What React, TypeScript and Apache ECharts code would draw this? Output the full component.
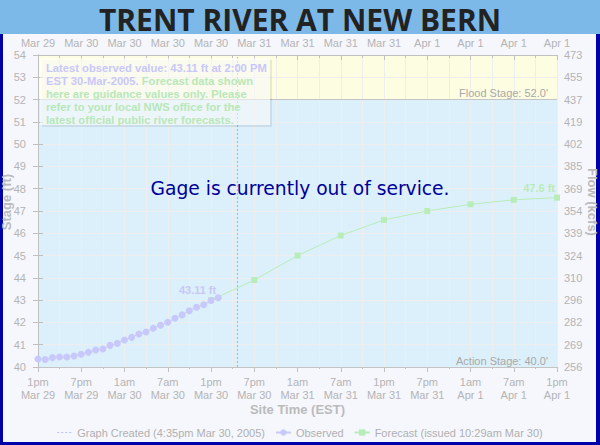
import React, { useEffect, useRef } from 'react';
import * as echarts from 'echarts';

// Hours after 1pm EST Mar 29, 2005
const obsHours = [0, 1, 2, 3, 4, 5, 6, 7, 8, 9, 10, 11, 12, 13, 14, 15, 16, 17, 18, 19, 20, 21, 22, 23, 24, 25];
const obsStage = [40.36, 40.34, 40.42, 40.45, 40.45, 40.49, 40.57, 40.66, 40.76, 40.81, 40.97, 41.06, 41.21, 41.33, 41.48, 41.57, 41.74, 41.87, 42.01, 42.19, 42.34, 42.52, 42.68, 42.79, 42.98, 43.11];
const fcstHours = [24, 30, 36, 42, 48, 54, 60, 66, 72];
const fcstStage = [43.0, 43.9, 45.0, 45.9, 46.6, 47.0, 47.3, 47.5, 47.6];

const bottomTimeLabels = ['1pm', '7pm', '1am', '7am', '1pm', '7pm', '1am', '7am', '1pm', '7pm', '1am', '7am', '1pm'];
const bottomDateLabels = ['Mar 29', 'Mar 29', 'Mar 30', 'Mar 30', 'Mar 30', 'Mar 30', 'Mar 31', 'Mar 31', 'Mar 31', 'Mar 31', 'Apr 1', 'Apr 1', 'Apr 1'];
const topDateLabels = ['Mar 29', 'Mar 30', 'Mar 30', 'Mar 30', 'Mar 30', 'Mar 31', 'Mar 31', 'Mar 31', 'Mar 31', 'Apr 1', 'Apr 1', 'Apr 1', 'Apr 1'];
const flowLabels = [256, 269, 282, 296, 310, 324, 339, 354, 369, 385, 402, 419, 437, 455, 473];

const floodStage = 52;
const actionStage = 40;
const graphCreatedHour = 27 + 35 / 60;

const seriesNames = {
  created: 'Graph Created (4:35pm Mar 30, 2005)',
  observed: 'Observed',
  forecast: 'Forecast (issued 10:29am Mar 30)',
};

export default function App() {
  const ref = useRef<HTMLDivElement>(null);

  useEffect(() => {
    if (!ref.current) return;
    const chart = echarts.init(ref.current, undefined, { renderer: 'svg' });

    const labelColor = '#b4b4b4';
    const axisColor = '#c0c0c0';
    const gridColor = '#eeeeee';
    const font = '"Liberation Sans", Arial, sans-serif';

    const obsData = obsHours.map((h, i) => {
      if (i === obsHours.length - 1) {
        return {
          value: [h, obsStage[i]],
          label: {
            show: true,
            position: 'top',
            align: 'right',
            distance: 0,
            offset: [-2, 1],
            formatter: obsStage[i].toFixed(2) + ' ft',
            color: '#c8c8f8',
            fontWeight: 'bold',
            fontSize: 11,
            fontFamily: font,
          },
        };
      }
      return [h, obsStage[i]];
    });
    const fcstData = fcstHours.map((h, i) => {
      if (i === fcstHours.length - 1) {
        return {
          value: [h, fcstStage[i]],
          label: {
            show: true,
            position: 'top',
            align: 'right',
            distance: 0,
            offset: [-2, -1],
            formatter: fcstStage[i].toFixed(1) + ' ft',
            color: '#b8ecb8',
            fontWeight: 'bold',
            fontSize: 11,
            fontFamily: font,
          },
        };
      }
      return [h, fcstStage[i]];
    });

    const dottedIcon =
      'path://M0,0L0.01,0M15,8L15.01,8M0,3.5h2v1h-2zM4,3.5h2v1h-2zM8,3.5h2v1h-2zM12,3.5h2v1h-2z';

    const option: any = {
      animation: false,
      backgroundColor: '#f5f7fd',
      textStyle: { fontFamily: font },
      grid: { left: 38, right: 43, top: 55, bottom: 78, outerBoundsMode: 'none' },
      legend: {
        bottom: 2,
        left: 'center',
        itemWidth: 15,
        itemHeight: 8,
        itemGap: 10,
        textStyle: { color: '#b0b0b0', fontSize: 11, fontFamily: font },
        data: [
          { name: seriesNames.created, icon: dottedIcon, itemStyle: { color: '#bcc0ec' } },
          seriesNames.observed,
          seriesNames.forecast,
        ],
      },
      xAxis: [
        {
          type: 'value',
          min: 0,
          max: 72,
          interval: 6,
          position: 'bottom',
          name: 'Site Time (EST)',
          nameLocation: 'middle',
          nameGap: 36,
          nameMoveOverlap: false,
          nameTextStyle: { color: '#bbbbbb', fontSize: 13, fontWeight: 'bold', fontFamily: font },
          axisLine: { show: true, lineStyle: { color: axisColor } },
          axisTick: { show: true, length: 5, lineStyle: { color: axisColor } },
          minorTick: { show: true, splitNumber: 2, length: 2, lineStyle: { color: axisColor } },
          axisLabel: {
            color: labelColor,
            fontSize: 11,
            lineHeight: 13,
            margin: 8,
            formatter: (v: number) => {
              const i = Math.round(v / 6);
              return bottomTimeLabels[i] + '\n' + bottomDateLabels[i];
            },
          },
          splitLine: { show: true, lineStyle: { color: gridColor } },
          minorSplitLine: { show: true, lineStyle: { color: gridColor } },
        },
        {
          type: 'value',
          min: 0,
          max: 72,
          interval: 6,
          position: 'top',
          axisLine: { show: true, lineStyle: { color: axisColor } },
          axisTick: { show: true, inside: true, length: 5, lineStyle: { color: axisColor } },
          minorTick: { show: true, splitNumber: 2, length: 3, lineStyle: { color: axisColor } },
          axisLabel: {
            color: labelColor,
            fontSize: 11,
            margin: 7,
            formatter: (v: number) => topDateLabels[Math.round(v / 6)],
          },
          splitLine: { show: false },
        },
      ],
      yAxis: [
        {
          type: 'value',
          min: 40,
          max: 54,
          interval: 1,
          position: 'left',
          name: 'Stage (ft)',
          nameLocation: 'middle',
          nameGap: 25,
          nameMoveOverlap: false,
          nameTextStyle: { color: '#bbbbbb', fontSize: 13, fontWeight: 'bold', fontFamily: font, padding: [0, 0, 0, 18] },
          axisLine: { show: true, lineStyle: { color: axisColor } },
          axisTick: { show: true, length: 5, lineStyle: { color: axisColor } },
          axisLabel: { color: labelColor, fontSize: 11, margin: 12 },
          splitLine: { show: true, lineStyle: { color: gridColor } },
        },
        {
          type: 'value',
          min: 40,
          max: 54,
          interval: 1,
          position: 'right',
          name: 'Flow (kcfs)',
          nameLocation: 'middle',
          nameRotate: -90,
          nameGap: 29,
          nameMoveOverlap: false,
          nameTextStyle: { color: '#bbbbbb', fontSize: 13, fontWeight: 'bold', fontFamily: font, padding: [0, 18, 0, 0] },
          axisLine: { show: true, lineStyle: { color: axisColor } },
          axisTick: { show: true, length: 5, lineStyle: { color: axisColor } },
          axisLabel: {
            color: labelColor,
            fontSize: 11,
            margin: 7,
            formatter: (v: number) => String(flowLabels[Math.round(v - 40)]),
          },
          splitLine: { show: false },
        },
      ],
      series: [
        {
          type: 'line',
          name: '__bands',
          data: [[0, 40]],
          symbol: 'none',
          silent: true,
          lineStyle: { width: 0, opacity: 0 },
          markArea: {
            z: -1,
            silent: true,
            data: [
              [{ yAxis: actionStage, itemStyle: { color: '#dcf0fc' } }, { yAxis: floodStage }],
              [{ yAxis: floodStage, itemStyle: { color: '#fdfde1' } }, { yAxis: 54 }],
            ],
          },
          markLine: {
            silent: true,
            symbol: 'none',
            lineStyle: { color: '#c4c4c4', width: 1, type: 'solid' },
            label: {
              show: true,
              position: 'insideEndTop',
              color: '#a8a8a8',
              fontSize: 11,
              fontFamily: font,
              distance: [9, 1],
            },
            data: [
              { yAxis: floodStage, label: { formatter: "Flood Stage: 52.0'" } },
              { yAxis: actionStage, label: { formatter: "Action Stage: 40.0'" } },
            ],
          },
        },
        {
          type: 'line',
          name: seriesNames.created,
          data: [],
          symbol: 'none',
          color: '#bcc0ec',
          lineStyle: { type: 'dotted', width: 1, color: '#bcc0ec' },
          markLine: {
            silent: true,
            symbol: 'none',
            label: { show: false },
            lineStyle: { type: [2, 2], width: 1, color: '#aab2e2' },
            data: [{ xAxis: graphCreatedHour }],
          },
        },
        {
          type: 'line',
          name: seriesNames.forecast,
          data: fcstData,
          symbol: 'rect',
          symbolSize: 6,
          color: '#b8ecb8',
          itemStyle: { color: '#b8ecb8' },
          lineStyle: { width: 1, color: '#b8ecb8' },
          z: 3,
        },
        {
          type: 'line',
          name: seriesNames.observed,
          data: obsData,
          symbol: 'circle',
          symbolSize: 7,
          color: '#c8c8fa',
          itemStyle: { color: '#c8c8fa' },
          lineStyle: { width: 1, color: '#c8c8fa' },
          z: 4,
        },
      ],
      graphic: [
        { type: 'rect', shape: { x: 0, y: 0, width: 600, height: 34 }, style: { fill: '#7cb9e8' }, silent: true },
        {
          type: 'text',
          x: 300,
          y: 19,
          style: {
            text: 'TRENT RIVER AT NEW BERN',
            fill: '#222222',
            font: 'bold 30px "Open Sans", sans-serif',
            lineHeight: 30,
            align: 'center',
            verticalAlign: 'middle',
          },
          silent: true,
        },
        { type: 'rect', shape: { x: 0, y: 34, width: 3, height: 411 }, style: { fill: '#0000a8' }, silent: true },
        { type: 'rect', shape: { x: 596, y: 34, width: 4, height: 411 }, style: { fill: '#0000a8' }, silent: true },
        { type: 'rect', shape: { x: 0, y: 442, width: 600, height: 3 }, style: { fill: '#0000a8' }, silent: true },
        {
          type: 'rect',
          z: 10,
          shape: { x: 40, y: 58, width: 230, height: 67 },
          style: {
            fill: 'rgba(255,255,255,0.55)',
            shadowColor: 'rgba(0,0,0,0.14)',
            shadowBlur: 0,
            shadowOffsetX: 2,
            shadowOffsetY: 2,
          },
          silent: true,
        },
        {
          type: 'text',
          z: 11,
          x: 46,
          y: 61,
          style: {
            text:
              '{p|Latest observed value: 43.11 ft at 2:00 PM}\n' +
              '{p|EST 30-Mar-2005.} {g|Forecast data shown}\n' +
              '{g|here are guidance values only. Please}\n' +
              '{g|refer to your local NWS office for the}\n' +
              '{g|latest official public river forecasts.}',
            font: 'bold 11.2px "Liberation Sans", Arial, sans-serif',
            verticalAlign: 'top',
            lineHeight: 13,
            rich: {
              p: { fill: '#c8c8f8', fontWeight: 'bold', fontSize: 11.2, fontFamily: font, lineHeight: 13 },
              g: { fill: '#b8e8b8', fontWeight: 'bold', fontSize: 11.2, fontFamily: font, lineHeight: 13 },
            },
          },
          silent: true,
        },
        {
          type: 'text',
          z: 10,
          x: 300,
          y: 188,
          style: {
            text: 'Gage is currently out of service.',
            fill: '#000099',
            font: '18.7px "DejaVu Sans", Verdana, sans-serif',
            align: 'center',
            verticalAlign: 'middle',
          },
          silent: true,
        },
      ],
    };

    chart.setOption(option);
    return () => chart.dispose();
  }, []);

  return <div ref={ref} style={{ position: 'absolute', left: 0, top: 0, width: 600, height: 445 }} />;
}
